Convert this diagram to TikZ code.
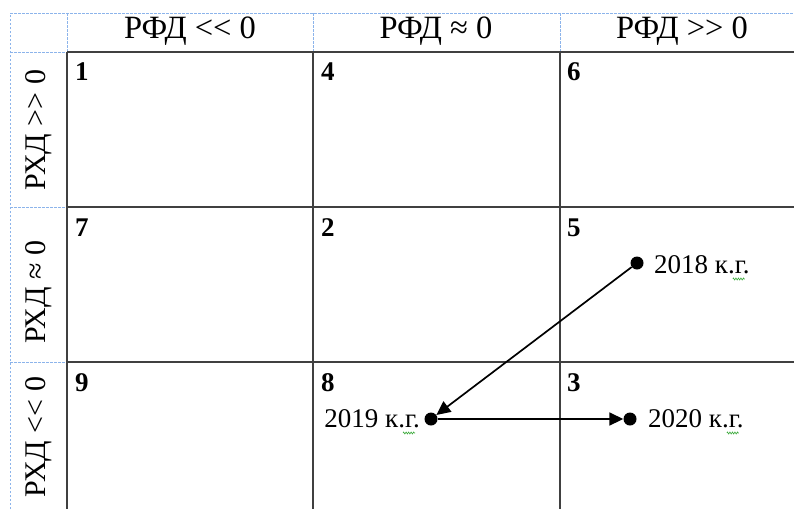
\documentclass[tikz,border=0pt]{standalone}
\usepackage{fontspec}
\setmainfont{Liberation Serif}[Ligatures=TeXOff]
\usetikzlibrary{arrows.meta,positioning,calc,decorations.pathmorphing}
\definecolor{gridGray}{RGB}{64,64,64}
\definecolor{guideBlue}{RGB}{140,180,235}
\definecolor{squigGreen}{RGB}{60,170,60}
\tikzset{
  gridln/.style={line width=1.8pt, gridGray},
  guideln/.style={dash pattern=on 2.5pt off 1.5pt, line width=0.9pt, guideBlue},
  headtxt/.style={inner sep=0pt, anchor=base, font=\fontsize{32.5}{34}\selectfont},
  sidetxt/.style={headtxt, rotate=90, font=\fontsize{30}{32}\selectfont},
  cellnum/.style={inner sep=0pt, anchor=base west, font=\fontsize{27}{29}\selectfont\bfseries},
  yeartxt/.style={inner sep=0pt, font=\fontsize{27}{29}\selectfont},
  dotnd/.style={circle, fill=black, inner sep=0pt, minimum size=13pt},
  trendln/.style={-{Triangle[length=14pt,width=13pt]}, line width=1.7pt},
  squig/.style={squigGreen, line width=0.6pt, decorate,
    decoration={zigzag, amplitude=1pt, segment length=2.5pt}},
}

\begin{document}
\begin{tikzpicture}[x=1pt, y=-1pt]
  \useasboundingbox (0,0) rectangle (794,509);
  % --- dashed frame of header row and side column ---
  \draw[guideln] (10,509) -- (10,13) -- (794,13);
  \foreach \yy in {52,207,362}
    \draw[guideln] (10,\yy) -- (67,\yy);
  \foreach \xx in {67,313,560}
    \draw[guideln] (\xx,13) -- (\xx,52);
  % --- solid grid ---
  \foreach \yy in {52,207,362}
    \draw[gridln] (67,\yy) -- (794,\yy);
  \foreach \xx in {67,313,560}
    \draw[gridln] (\xx,52) -- (\xx,509);
  % --- headers ---
  \node[headtxt] (hdA) at (190,38) {РФД << 0};
  \node[headtxt] (hdB) at (436,38) {РФД ≈ 0};
  \node[headtxt] (hdC) at (682,38) {РФД >> 0};
  \node[sidetxt] (rwA) at (45,130) {РХД >> 0};
  \node[sidetxt] (rwB) at (45,292) {РХД ≈ 0};
  \node[sidetxt] (rwC) at (45,437) {РХД << 0};
  % --- cell numbers ---
  \node[cellnum] (c1) at (75,80) {1};
  \node[cellnum] (c4) at (321,80) {4};
  \node[cellnum] (c6) at (567,80) {6};
  \node[cellnum] (c7) at (75,236) {7};
  \node[cellnum] (c2) at (321,236) {2};
  \node[cellnum] (c5) at (567,236) {5};
  \node[cellnum] (c9) at (75,391) {9};
  \node[cellnum] (c8) at (321,391) {8};
  \node[cellnum] (c3) at (567,391) {3};
  % --- trajectory ---
  \node[dotnd] (p18) at (637,263) {};
  \node[dotnd] (p19) at (431,419) {};
  \node[dotnd] (p20) at (630,419) {};
  \node[yeartxt, anchor=base west] (l18) at (654,273) {2018 к.г.};
  \node[yeartxt, anchor=base east] (l19) at (420,427) {2019 к.г.};
  \node[yeartxt, anchor=base west] (l20) at (648,427) {2020 к.г.};
  \draw[trendln] (p18) -- (p19);
  \draw[trendln] (p19) -- (p20);
  % spell-check marks
  \foreach \lb in {l18,l19,l20}
    \draw[squig] ($(\lb.base east)+(-17,6)$) -- ++(12,0);
\end{tikzpicture}
\end{document}
